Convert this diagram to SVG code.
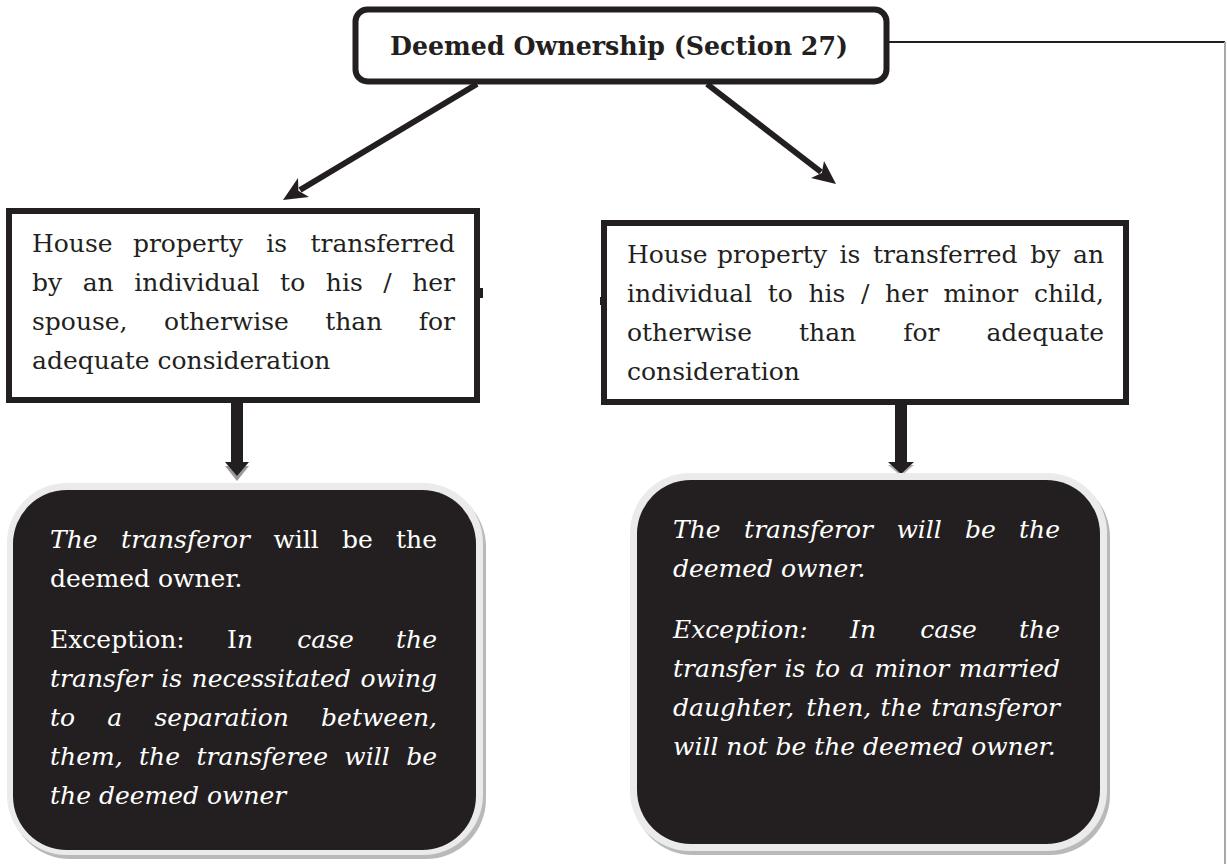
<svg xmlns="http://www.w3.org/2000/svg" width="1227" height="864" viewBox="0 0 1227 864">
<style>
.t{font-family:"DejaVu Serif","Liberation Serif",serif;font-size:25px;fill:#231f20}
.w{font-family:"DejaVu Serif","Liberation Serif",serif;font-size:25px;fill:#ffffff}
.i{font-style:italic}
.ttl{font-family:"DejaVu Serif","Liberation Serif",serif;font-size:26px;font-weight:bold;fill:#231f20}
.box{fill:#ffffff;stroke:#231f20;stroke-width:6}
.dark{fill:#231f20}
.rim{fill:#ebebeb}
.shd{fill:#b9b9b9}
.ln{stroke:#231f20;stroke-width:6;fill:none}
.ah{fill:#231f20}
</style>
<rect width="1227" height="864" fill="#ffffff"/>
<g id="connectors">
  <line x1="889" y1="42" x2="1225" y2="42" stroke="#231f20" stroke-width="2"/>
  <line x1="1225" y1="42" x2="1225" y2="864" stroke="#a8a8a8" stroke-width="2"/>
  <line class="ln" x1="477" y1="84" x2="300" y2="190"/>
  <polygon class="ah" points="283,200 309,197 298.4,190.8 298,178"/>
  <line class="ln" x1="707" y1="84" x2="821" y2="172"/>
  <polygon class="ah" points="836,184 811,178 821.8,173 824,161"/>
  <polygon fill="#9a9a9a" points="225,466 249,466 237,481"/>
  <rect class="ah" x="231" y="403" width="12" height="60"/>
  <polygon class="ah" points="225,462 249,462 237,476"/>
  <polygon fill="#b0b0b0" points="888,465 914,465 901,476"/>
  <rect class="ah" x="895" y="403" width="12" height="60"/>
  <polygon class="ah" points="888,462 914,462 901,474"/>
</g>
<g id="title">
  <rect class="box" x="355.5" y="9.5" width="531" height="72" rx="12" stroke-width="5"/>
  <text class="ttl" x="619" y="55" text-anchor="middle" textLength="458" lengthAdjust="spacingAndGlyphs">Deemed Ownership (Section 27)</text>
</g>
<g id="spouse">
  <rect class="box" x="9" y="211" width="468" height="189"/>
  <rect class="ah" x="480" y="288" width="3" height="10"/>
  <text class="t" y="252"><tspan x="32">House</tspan><tspan x="132.9">property</tspan><tspan x="266.2">is</tspan></text>
  <text class="t" x="455" y="252" text-anchor="end">transferred</text>
  <text class="t" y="291"><tspan x="32">by</tspan><tspan x="82.7">an</tspan><tspan x="134.3">individual</tspan><tspan x="280.1">to</tspan><tspan x="325.8">his</tspan><tspan x="383.3">/</tspan></text>
  <text class="t" x="455" y="291" text-anchor="end">her</text>
  <text class="t" y="330"><tspan x="32">spouse,</tspan><tspan x="163.9">otherwise</tspan><tspan x="325.2">than</tspan></text>
  <text class="t" x="455" y="330" text-anchor="end">for</text>
  <text class="t" x="32" y="369">adequate consideration</text>
</g>
<g id="minor-child">
  <rect class="box" x="604" y="223" width="522" height="179"/>
  <rect class="ah" x="600" y="297" width="4" height="8"/>
  <text class="t" y="263"><tspan x="627">House</tspan><tspan x="717.1">property</tspan><tspan x="839.6">is</tspan><tspan x="873">transferred</tspan><tspan x="1030.2">by</tspan></text>
  <text class="t" x="1104" y="263" text-anchor="end">an</text>
  <text class="t" y="302"><tspan x="627">individual</tspan><tspan x="767.8">to</tspan><tspan x="808.5">his</tspan><tspan x="861">/</tspan><tspan x="885">her</tspan><tspan x="943.5">minor</tspan></text>
  <text class="t" x="1104" y="302" text-anchor="end">child,</text>
  <text class="t" y="341"><tspan x="627">otherwise</tspan><tspan x="799">than</tspan><tspan x="903.2">for</tspan></text>
  <text class="t" x="1104" y="341" text-anchor="end">adequate</text>
  <text class="t" x="627" y="380">consideration</text>
</g>
<g id="spouse-result">
  <rect class="shd" x="10" y="487" width="476" height="372" rx="60"/>
  <rect class="rim" x="7" y="483" width="476" height="372" rx="60"/>
  <rect class="dark" x="13" y="490" width="463" height="360" rx="54"/>
  <text class="w" y="548"><tspan class="i" x="50">The</tspan><tspan class="i" x="121.1">transferor</tspan><tspan x="273.4">will</tspan><tspan x="342">be</tspan></text>
  <text class="w" x="437" y="548" text-anchor="end">the</text>
  <text class="w" x="50" y="587">deemed owner.</text>
  <text class="w" y="648"><tspan x="50">Exception:</tspan><tspan x="227.1">I</tspan><tspan class="i">n</tspan><tspan class="i" x="297.3">case</tspan></text>
  <text class="w i" x="437" y="648" text-anchor="end">the</text>
  <text class="w i" y="687"><tspan x="50">transfer</tspan><tspan x="161.3">is</tspan><tspan x="191.6">necessitated</tspan></text>
  <text class="w i" x="437" y="687" text-anchor="end">owing</text>
  <text class="w i" y="726"><tspan x="50">to</tspan><tspan x="107.3">a</tspan><tspan x="154.4">separation</tspan></text>
  <text class="w i" x="437" y="726" text-anchor="end">between,</text>
  <text class="w i" y="765"><tspan x="50">them,</tspan><tspan x="139">the</tspan><tspan x="196.5">transferee</tspan><tspan x="344.3">will</tspan></text>
  <text class="w i" x="437" y="765" text-anchor="end">be</text>
  <text class="w i" x="50" y="804">the deemed owner</text>
</g>
<g id="minor-result">
  <rect class="shd" x="633" y="477" width="477" height="378" rx="60"/>
  <rect class="rim" x="630" y="473" width="477" height="378" rx="60"/>
  <rect class="dark" x="637" y="480" width="463" height="364" rx="54"/>
  <text class="w i" y="538"><tspan x="673">The</tspan><tspan x="744.1">transferor</tspan><tspan x="896.4">will</tspan><tspan x="965">be</tspan></text>
  <text class="w i" x="1060" y="538" text-anchor="end">the</text>
  <text class="w i" x="673" y="577">deemed owner.</text>
  <text class="w i" y="638"><tspan x="673">Exception:</tspan><tspan x="850.1">In</tspan><tspan x="920.3">case</tspan></text>
  <text class="w i" x="1060" y="638" text-anchor="end">the</text>
  <text class="w i" y="677"><tspan x="673">transfer</tspan><tspan x="784.5">is</tspan><tspan x="815">to</tspan><tspan x="849.8">a</tspan><tspan x="874.4">minor</tspan></text>
  <text class="w i" x="1060" y="677" text-anchor="end">married</text>
  <text class="w i" y="716"><tspan x="673">daughter,</tspan><tspan x="806.2">then,</tspan><tspan x="880.5">the</tspan></text>
  <text class="w i" x="1060" y="716" text-anchor="end">transferor</text>
  <text class="w i" x="673" y="755">will not be the deemed owner.</text>
</g>
</svg>
